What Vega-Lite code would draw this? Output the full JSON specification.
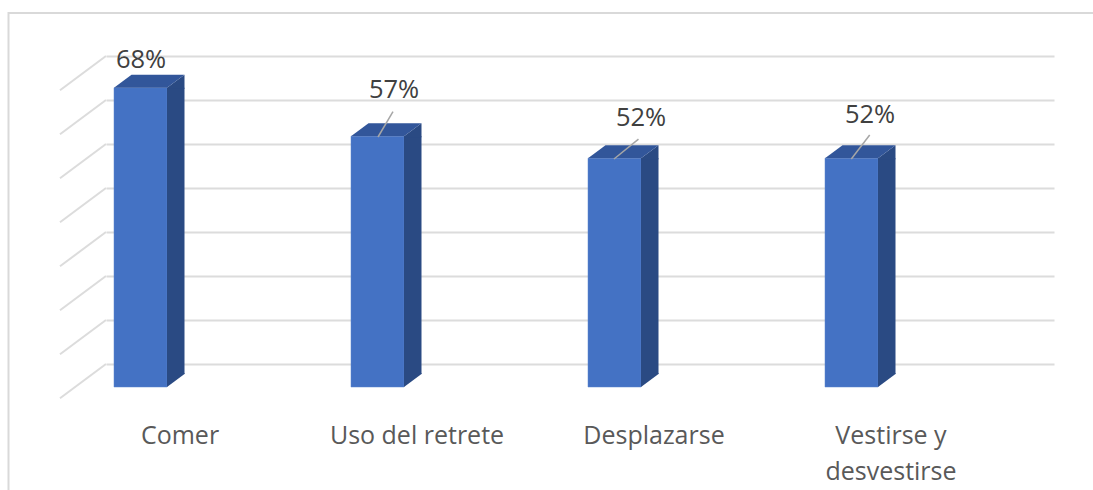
{
"$schema":"https://vega.github.io/schema/vega-lite/v6.json",
"width":948,"height":308,
"autosize":{"type":"none"},
"padding":{"left":106,"top":56,"right":39,"bottom":126},
"background":"white",
"config":{"view":{"stroke":null}},
"datasets":{
"bars":[{"cat":"Comer","value":68,"label":"68%"},{"cat":"Uso del retrete","value":57,"label":"57%"},{"cat":"Desplazarse","value":52,"label":"52%"},{"cat":"Vestirse y desvestirse","value":52,"label":"52%"}],
"levels":[{"level":0},{"level":10},{"level":20},{"level":30},{"level":40},{"level":50},{"level":60},{"level":70}]
},
"data":{"name":"bars"},
"encoding":{
"x":{"field":"cat","type":"nominal","sort":null,"scale":{"paddingInner":0,"paddingOuter":0},
"axis":{"title":null,"domain":false,"ticks":false,"labelAngle":0,"labelAlign":"center","labelOffset":-44.5,"labelPadding":59,"labelFont":"Open Sans","labelFontSize":25,"labelColor":"#595959","labelLimit":300,"labelLineHeight":36,"labelExpr":"datum.label=='Vestirse y desvestirse'?['Vestirse y','desvestirse']:datum.label"}},
"y":{"field":"value","type":"quantitative","scale":{"domain":[0,70],"nice":false},
"axis":{"title":null,"domain":false,"ticks":false,"labels":false,"values":[0,10,20,30,40,50,60,70],"grid":true,"gridColor":"#dcdcdc","gridWidth":2}}
},
"layer":[
{"data":{"name":"levels"},"transform":[{"filter":"datum.level==70"}],"mark":{"type":"point","filled":false,"size":4,"stroke":"#d9d9d9","strokeWidth":2,"opacity":1,"shape":"M-97.5,440 L-97.5,-43 L1000,-43"},"encoding":{"x":{"datum":"Comer","bandPosition":0},"y":{"field":"level","type":"quantitative"}}},
{"data":{"name":"levels"},"mark":{"type":"point","filled":false,"size":4,"stroke":"#dcdcdc","strokeWidth":2,"opacity":1,"shape":"M0,0 L-46,34.3"},"encoding":{"x":{"datum":"Comer","bandPosition":0},"y":{"field":"level","type":"quantitative"}}},
{"mark":{"type":"bar","size":53,"color":"#4472C4","xOffset":-84,"yOffset":23,"y2Offset":23,"stroke":"#5B85CE","strokeWidth":0.5},"encoding":{"y2":{"datum":0}}},
{"mark":{"type":"bar","size":17.5,"color":"#2A4A83","xOffset":-48.75,"yOffset":23,"y2Offset":10},"encoding":{"y2":{"datum":0}}},
{"mark":{"type":"point","filled":true,"size":4,"color":"#2A4A83","opacity":1,"strokeWidth":0,"shape":"M-57.5,23 L-40,10 L-40,24 L-57.5,24 Z"}},
{"mark":{"type":"point","filled":true,"size":4,"color":"#2A4A83","opacity":1,"strokeWidth":0,"shape":"M-57.5,9 L-40,9 L-40,10 L-57.5,23 Z"},"encoding":{"y":{"datum":0}}},
{"mark":{"type":"point","filled":true,"size":4,"color":"#32569A","opacity":1,"strokeWidth":0,"shape":"M-110.5,23 L-57.5,23 L-40,10 L-93,10 Z"}},
{"transform":[{"filter":"datum.cat=='Uso del retrete'"}],"mark":{"type":"point","filled":false,"size":4,"stroke":"#a6a6a6","strokeWidth":1.5,"opacity":1,"shape":"M-83.5,23.8 L-68.5,-1.5"}},
{"transform":[{"filter":"datum.cat=='Desplazarse'"}],"mark":{"type":"point","filled":false,"size":4,"stroke":"#a6a6a6","strokeWidth":1.5,"opacity":1,"shape":"M-84.5,23.8 L-60,4"}},
{"transform":[{"filter":"datum.cat=='Vestirse y desvestirse'"}],"mark":{"type":"point","filled":false,"size":4,"stroke":"#a6a6a6","strokeWidth":1.5,"opacity":1,"shape":"M-84.2,23.8 L-65.8,-0.2"}},
{"transform":[{"filter":"datum.cat=='Comer'"}],"mark":{"type":"text","font":"Open Sans","fontSize":25.5,"color":"#404040","baseline":"middle","dx":-83.5,"dy":-5},"encoding":{"text":{"field":"label"}}},
{"transform":[{"filter":"datum.cat=='Uso del retrete'"}],"mark":{"type":"text","font":"Open Sans","fontSize":25.5,"color":"#404040","baseline":"middle","dx":-67.5,"dy":-23},"encoding":{"text":{"field":"label"}}},
{"transform":[{"filter":"datum.cat=='Desplazarse'"}],"mark":{"type":"text","font":"Open Sans","fontSize":25.5,"color":"#404040","baseline":"middle","dx":-57.5,"dy":-17},"encoding":{"text":{"field":"label"}}},
{"transform":[{"filter":"datum.cat=='Vestirse y desvestirse'"}],"mark":{"type":"text","font":"Open Sans","fontSize":25.5,"color":"#404040","baseline":"middle","dx":-65.5,"dy":-20},"encoding":{"text":{"field":"label"}}}
]
}
